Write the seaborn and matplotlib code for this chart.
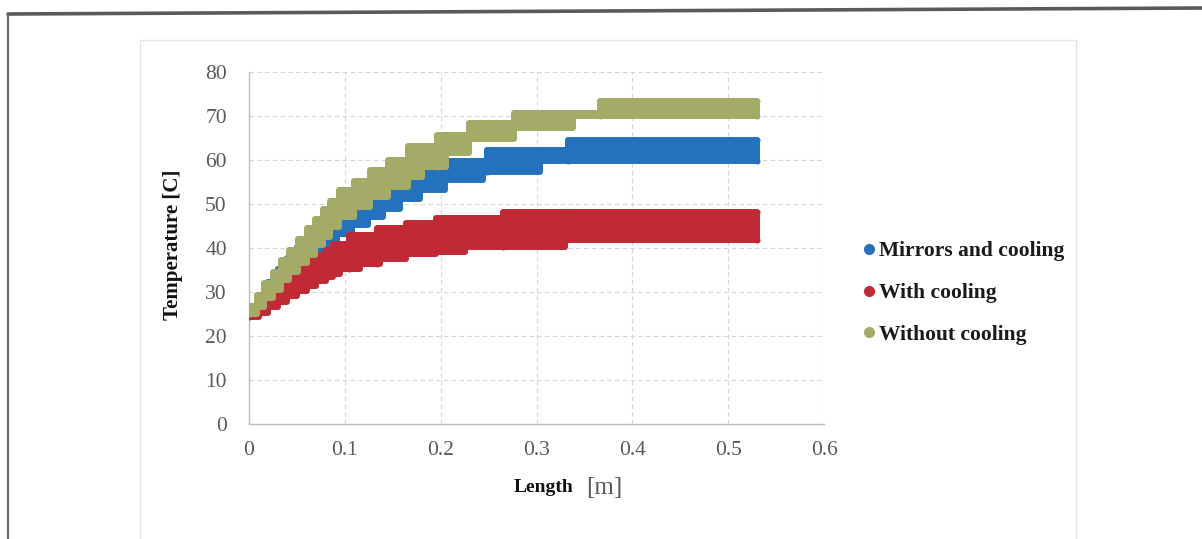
import matplotlib
matplotlib.use("Agg")
import matplotlib.pyplot as plt
import seaborn as sns
import pandas as pd
from matplotlib.lines import Line2D

# ---- data: band of temperature readings along the collector length ----
series_names = ["Mirrors and cooling", "With cooling", "Without cooling"]
series_colors = ["#2472BE", "#C12A35", "#A4AB67"]

length_mirrors = [0.000, 0.010, 0.020, 0.030, 0.040, 0.050, 0.060, 0.070, 0.082, 0.092, 0.107,
                  0.124, 0.140, 0.158, 0.178, 0.205, 0.244, 0.248, 0.304, 0.333, 0.530]
temp_mirrors_high = [25.8, 29.3, 32.3, 35.3, 37.8, 40.3, 42.3, 44.3, 46.1, 47.3, 49.3,
                     51.6, 53.8, 55.8, 57.8, 59.8, 59.8, 62.3, 62.3, 64.5, 64.5]
temp_mirrors_low = [24.6, 26.6, 28.6, 30.6, 32.6, 34.6, 36.6, 38.6, 41.4, 43.2, 45.2,
                    47.1, 48.9, 51.2, 53.2, 55.5, 57.3, 57.3, 59.7, 59.7, 59.7]

length_cooling = [0.000, 0.010, 0.020, 0.030, 0.040, 0.050, 0.060, 0.070, 0.080, 0.088, 0.095,
                  0.104, 0.116, 0.134, 0.137, 0.164, 0.195, 0.225, 0.265, 0.330, 0.530]
temp_cooling_high = [25.2, 27.8, 30.0, 32.0, 34.2, 35.8, 37.3, 38.5, 39.6, 40.9, 40.9,
                     42.9, 42.9, 44.5, 44.5, 45.7, 46.8, 46.8, 48.1, 48.1, 48.1]
temp_cooling_low = [24.3, 25.3, 26.5, 27.7, 29.0, 30.2, 31.4, 32.5, 33.5, 34.1, 35.2,
                    35.2, 36.4, 36.4, 37.5, 38.6, 39.2, 40.2, 40.2, 41.8, 41.8]

length_nocool = [0.000, 0.008, 0.016, 0.025, 0.033, 0.042, 0.051, 0.060, 0.069, 0.077, 0.085, 0.094,
                 0.110, 0.126, 0.145, 0.166, 0.180, 0.196, 0.206, 0.230, 0.277, 0.338, 0.366, 0.530]
temp_nocool_high = [26.8, 29.3, 32.0, 34.6, 37.3, 39.6, 42.0, 44.6, 46.6, 48.8, 50.7, 53.2,
                    55.3, 57.7, 60.1, 63.2, 63.2, 65.7, 65.7, 68.4, 70.7, 70.7, 73.4, 73.4]
temp_nocool_low = [25.0, 26.7, 28.7, 30.5, 32.7, 34.6, 36.7, 38.4, 40.7, 42.5, 44.7, 47.1,
                   49.3, 51.6, 53.9, 56.2, 58.4, 58.4, 61.7, 64.8, 67.3, 69.9, 69.9, 69.9]

x_ticks = [0, 0.1, 0.2, 0.3, 0.4, 0.5, 0.6]
x_tick_labels = ["0", "0.1", "0.2", "0.3", "0.4", "0.5", "0.6"]
y_ticks = [0, 10, 20, 30, 40, 50, 60, 70, 80]

bands = [
    (length_mirrors, temp_mirrors_low, temp_mirrors_high),
    (length_cooling, temp_cooling_low, temp_cooling_high),
    (length_nocool, temp_nocool_low, temp_nocool_high),
]

# ---- style ----
sns.set_style("white")
plt.rcParams["font.family"] = ["Liberation Serif", "DejaVu Serif"]

W, H = 1202, 539
fig = plt.figure(figsize=(W / 100, H / 100), dpi=100)
ax = fig.add_axes([249 / W, 1 - 424 / H, (824 - 249) / W, (424 - 72) / H])

# page / chart frame decorations
fig.add_artist(Line2D([8 / W, 1.0], [1 - 14 / H, 1 - 8 / H], color="#5a5a5a", lw=2.6,
                      transform=fig.transFigure))
fig.add_artist(Line2D([8 / W, 8 / W], [1 - 14 / H, 0], color="#6a6a6a", lw=1.6,
                      transform=fig.transFigure))
fig.add_artist(Line2D([140 / W, 140 / W, 1076 / W, 1076 / W],
                      [0, 1 - 40 / H, 1 - 40 / H, 0], color="#e4e4e4", lw=1.0,
                      transform=fig.transFigure))

# ---- bands of measured points ----
for i, ((xs, lo, hi), name, col) in enumerate(zip(bands, series_names, series_colors)):
    ax.fill_between(xs, lo, hi, step="post", facecolor=col, edgecolor=col,
                    linewidth=4.3, joinstyle="round", zorder=2 + i)
    pts = pd.DataFrame({"Length": list(xs) + list(xs),
                        "Temperature": list(lo) + list(hi)})
    sns.scatterplot(data=pts, x="Length", y="Temperature", color=col, s=19,
                    linewidth=0, ax=ax, zorder=2 + i, legend=False)

# ---- axes ----
ax.set_xlim(0, 0.6)
ax.set_ylim(0, 80)
ax.set_xticks(x_ticks)
ax.set_xticklabels(x_tick_labels)
ax.set_yticks(y_ticks)
ax.grid(True, color="#d6d6d6", linestyle=(0, (4, 3)), linewidth=0.8)
ax.set_axisbelow(True)
for side in ["top", "right"]:
    ax.spines[side].set_visible(False)
for side in ["left", "bottom"]:
    ax.spines[side].set_color("#bdbdbd")
    ax.spines[side].set_linewidth(1.0)
ax.tick_params(axis="both", which="major", length=5, width=0.8, color="#bdbdbd",
               labelsize=15.5, labelcolor="#595959", direction="out")
ax.tick_params(axis="y", pad=11)
ax.tick_params(axis="x", pad=7)

ax.set_xlabel("")
ax.set_ylabel("Temperature [C]", fontsize=15, fontweight="bold", color="#111111")
ax.yaxis.set_label_coords((183 - 249) / (824 - 249), 0.51)
ax.text(544 / W, 1 - 488 / H, "Length", transform=fig.transFigure, fontsize=14,
        fontweight="bold", color="#111111", ha="center", va="center")
ax.text(604 / W, 1 - 488 / H, "[m]", transform=fig.transFigure, fontsize=18,
        color="#595959", ha="center", va="center")

# ---- legend ----
handles = [Line2D([], [], marker="o", linestyle="", markersize=8, color=c,
                  markeredgewidth=0) for c in series_colors]
leg = fig.legend(handles, series_names, loc="center left",
                 bbox_to_anchor=(852 / W, 1 - 293 / H), frameon=False,
                 prop={"family": "Liberation Serif", "weight": "bold", "size": 15.5},
                 handlelength=0.6, handletextpad=0.15, labelspacing=1.0, borderpad=0)
for t in leg.get_texts():
    t.set_color("#1a1a1a")

fig.savefig("out.png", dpi=100, facecolor="white")
